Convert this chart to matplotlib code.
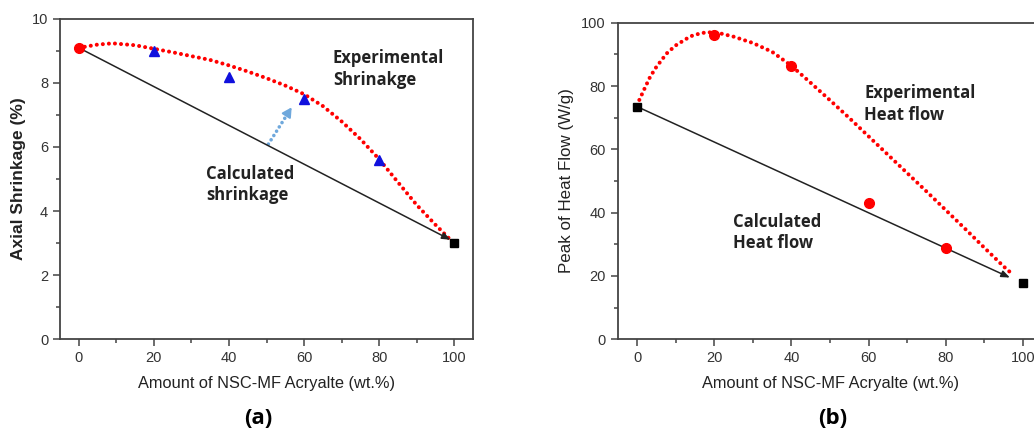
import numpy as np
import matplotlib
matplotlib.use('Agg')
import matplotlib.pyplot as plt
from matplotlib.ticker import MultipleLocator

plt.rcParams['font.family'] = ['Liberation Sans', 'DejaVu Sans']

# ---- (a) axial shrinkage ----
shr_x0, shr_y0 = 0, 9.1                       # pure MF acrylate (red circle)
shr_x = [20, 40, 60, 80]                       # blue triangles
shr_y = [9.0, 8.2, 7.5, 5.6]
shr_x100, shr_y100 = 100, 3.0                  # black square
shr_calc_x = [0, 99]                           # calculated (linear) line
shr_calc_y = [9.1, 3.1]
shr_fit_x = [0, 5, 9, 15, 20, 25, 30, 35, 40, 45, 50, 55, 60, 65, 70, 75, 80, 85, 90, 95, 99]
shr_fit_y = [9.1, 9.2, 9.24, 9.18, 9.07, 8.96, 8.84, 8.72, 8.55, 8.36, 8.15, 7.92, 7.65,
             7.28, 6.8, 6.25, 5.62, 4.9, 4.19, 3.57, 3.1]
arrow_from = (50.5, 6.09)                      # light blue "shift" arrow
arrow_to = (56.7, 7.24)

# ---- (b) peak heat flow ----
hf_x0, hf_y0 = 0, 73.5
hf_x100, hf_y100 = 100, 17.9
hf_x = [20, 40, 60, 80]
hf_y = [96.2, 86.3, 43.0, 28.7]
hf_calc_x = [0, 96.6]
hf_calc_y = [73.5, 19.5]
hf_fit_x = [0.6, 2, 3.4, 5, 7.7, 10, 13.7, 15, 18, 21, 25, 30, 35, 40, 45, 50, 55, 60, 65,
            70, 75, 80, 85, 90, 95, 97.5]
hf_fit_y = [75.6, 79.3, 82.9, 86.0, 90.3, 92.8, 95.6, 96.2, 97.0, 96.8, 95.6, 93.6, 90.8,
            86.4, 81.0, 75.5, 69.9, 64.1, 58.3, 52.5, 46.7, 40.8, 34.9, 28.9, 23.0, 20.3]

W, H = 1034, 440
fig = plt.figure(figsize=(W / 100, H / 100), dpi=100)
ax1 = fig.add_axes([60 / W, 1 - 339 / H, 413 / W, 320 / H])
ax2 = fig.add_axes([617.7 / W, 1 - 339.3 / H, 424.6 / W, 316.6 / H])

spine_col = '#444444'
for ax in (ax1, ax2):
    for s in ax.spines.values():
        s.set_color(spine_col)
        s.set_linewidth(1.3)
    ax.set_xlim(-5, 105)
    ax.xaxis.set_major_locator(MultipleLocator(20))
    ax.xaxis.set_minor_locator(MultipleLocator(10))
    ax.tick_params(which='both', direction='out', color=spine_col, labelsize=10.5,
                   labelcolor='#333333', width=1.1)
    ax.tick_params(which='major', length=5)
    ax.tick_params(which='minor', length=3)
    ax.set_xlabel('Amount of NSC-MF Acryalte (wt.%)', fontsize=11.8, color='#222222', labelpad=8)

dot_kw = dict(color='red', lw=2.9, dashes=(0.01, 1.5), dash_capstyle='round', zorder=2)
bold_kw = dict(fontsize=12, fontweight='bold', color='#222222', va='top', ha='left',
               linespacing=1.25, family=['Open Sans', 'DejaVu Sans'])
head_kw = dict(arrowstyle='-|>,head_length=0.5,head_width=0.2', color='#222222',
               lw=1.1, shrinkA=0, shrinkB=0)

# panel a
ax1.set_ylim(0, 10)
ax1.yaxis.set_major_locator(MultipleLocator(2))
ax1.yaxis.set_minor_locator(MultipleLocator(1))
ax1.plot(shr_fit_x, shr_fit_y, **dot_kw)
ax1.annotate('', xy=(shr_calc_x[1], shr_calc_y[1]), xytext=(shr_calc_x[0], shr_calc_y[0]),
             arrowprops=head_kw, zorder=3)
ax1.plot(shr_x, shr_y, '^', color='#1010dd', ms=7, zorder=4)
ax1.plot(shr_x0, shr_y0, 'o', color='red', ms=7, zorder=4)
ax1.plot(shr_x100, shr_y100, 's', color='black', ms=5.5, zorder=4)
# dotted blue arrow: dotted shaft plus a short solid head
ax1.plot([arrow_from[0], arrow_to[0] - 0.8], [arrow_from[1], arrow_to[1] - 0.15],
         color='#6fa8dc', lw=2.6, dashes=(0.01, 1.4), dash_capstyle='round')
ax1.annotate('', xy=arrow_to, xytext=(arrow_to[0] - 1.2, arrow_to[1] - 0.22),
             arrowprops=dict(arrowstyle='-|>,head_length=0.55,head_width=0.3', color='#6fa8dc',
                             lw=1.5, shrinkA=0, shrinkB=0))
ax1.text(67.7, 9.05, 'Experimental\nShrinakge', **bold_kw)
ax1.text(33.9, 5.45, 'Calculated\nshrinkage', **bold_kw)
ax1.set_ylabel('Axial Shrinkage (%)', fontsize=12.5, fontweight='bold', color='#222222', labelpad=4)

# panel b
ax2.set_ylim(0, 100)
ax2.yaxis.set_major_locator(MultipleLocator(20))
ax2.yaxis.set_minor_locator(MultipleLocator(10))
ax2.plot(hf_fit_x, hf_fit_y, **dot_kw)
ax2.annotate('', xy=(hf_calc_x[1], hf_calc_y[1]), xytext=(hf_calc_x[0], hf_calc_y[0]),
             arrowprops=head_kw, zorder=3)
ax2.plot(hf_x, hf_y, 'o', color='red', ms=7, zorder=4)
ax2.plot([hf_x0, hf_x100], [hf_y0, hf_y100], 's', color='black', ms=5.5, zorder=4)
ax2.text(58.9, 80.5, 'Experimental\nHeat flow', **bold_kw)
ax2.text(24.9, 40.0, 'Calculated\nHeat flow', **bold_kw)
ax2.set_ylabel('Peak of Heat Flow (W/g)', fontsize=12.2, color='#222222', labelpad=5)

fig.text(258 / W, 1 - 418 / H, '(a)', fontsize=16, fontweight='bold', ha='center', va='center',
         family=['Open Sans', 'DejaVu Sans'])
fig.text(833 / W, 1 - 418 / H, '(b)', fontsize=16, fontweight='bold', ha='center', va='center',
         family=['Open Sans', 'DejaVu Sans'])

fig.savefig('out.png', dpi=100)
